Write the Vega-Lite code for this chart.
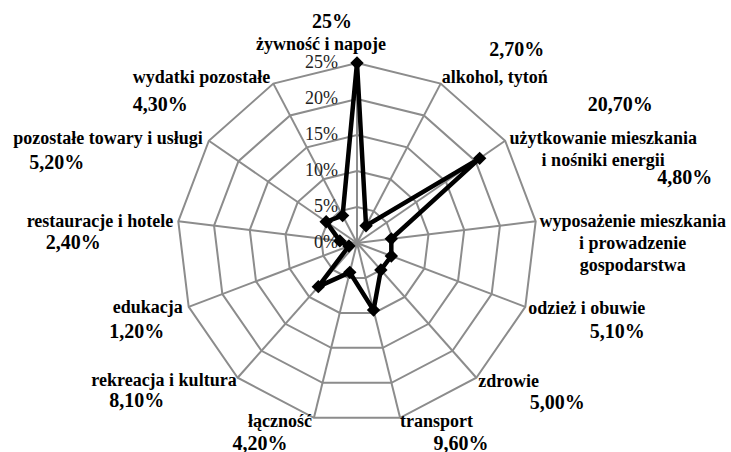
{
  "$schema": "https://vega.github.io/schema/vega-lite/v6.json",
  "width": 731,
  "height": 452,
  "padding": 0,
  "autosize": {"type": "none"},
  "background": "white",
  "config": {"view": {"stroke": null}, "font": "Liberation Serif, Times New Roman, serif"},
  "datasets": {
    "cats": [
      {"i": 0, "cat": "żywność i napoje", "v": 25, "lab": "25%"},
      {"i": 1, "cat": "alkohol, tytoń", "v": 2.7, "lab": "2,70%"},
      {"i": 2, "cat": "użytkowanie mieszkania\ni nośniki energii", "v": 20.7, "lab": "20,70%"},
      {"i": 3, "cat": "wyposażenie mieszkania\ni prowadzenie\ngospodarstwa", "v": 4.8, "lab": "4,80%"},
      {"i": 4, "cat": "odzież i obuwie", "v": 5.1, "lab": "5,10%"},
      {"i": 5, "cat": "zdrowie", "v": 5.0, "lab": "5,00%"},
      {"i": 6, "cat": "transport", "v": 9.6, "lab": "9,60%"},
      {"i": 7, "cat": "łączność", "v": 4.2, "lab": "4,20%"},
      {"i": 8, "cat": "rekreacja i kultura", "v": 8.1, "lab": "8,10%"},
      {"i": 9, "cat": "edukacja", "v": 1.2, "lab": "1,20%"},
      {"i": 10, "cat": "restauracje i hotele", "v": 2.4, "lab": "2,40%"},
      {"i": 11, "cat": "pozostałe towary i usługi", "v": 5.2, "lab": "5,20%"},
      {"i": 12, "cat": "wydatki pozostałe", "v": 4.3, "lab": "4,30%"}
    ],
    "ticks": [
      {"t": 0, "s": "0%"},
      {"t": 5, "s": "5%"},
      {"t": 10, "s": "10%"},
      {"t": 15, "s": "15%"},
      {"t": 20, "s": "20%"},
      {"t": 25, "s": "25%"}
    ]
  },
  "layer": [
    {
      "data": {"name": "cats"},
      "transform": [
        {"calculate": "[5, 10, 15, 20, 25]", "as": "lv"},
        {"flatten": ["lv"]},
        {"calculate": "datum.i * 2 * PI / 13", "as": "a"},
        {"calculate": "datum.lv * sin(datum.a)", "as": "gx"},
        {"calculate": "datum.lv * cos(datum.a)", "as": "gy"}
      ],
      "mark": {"type": "line", "interpolate": "linear-closed", "stroke": "#8c8c8c", "strokeWidth": 2},
      "encoding": {
        "x": {"field": "gx", "type": "quantitative", "scale": {"domain": [-49.583, 51.944], "nice": false, "zero": false}, "axis": null},
        "y": {"field": "gy", "type": "quantitative", "scale": {"domain": [-29.028, 33.75], "nice": false, "zero": false}, "axis": null},
        "detail": {"field": "lv", "type": "nominal"},
        "order": {"field": "i", "type": "quantitative"}
      }
    },
    {
      "data": {"name": "cats"},
      "transform": [
        {"calculate": "datum.i * 2 * PI / 13", "as": "a"},
        {"calculate": "25 * sin(datum.a)", "as": "gx"},
        {"calculate": "25 * cos(datum.a)", "as": "gy"},
        {"calculate": "0", "as": "z"}
      ],
      "mark": {"type": "rule", "stroke": "#8c8c8c", "strokeWidth": 2},
      "encoding": {
        "x": {"field": "z", "type": "quantitative"},
        "y": {"field": "z", "type": "quantitative"},
        "x2": {"field": "gx"},
        "y2": {"field": "gy"}
      }
    },
    {
      "data": {"name": "ticks"},
      "transform": [{"calculate": "0", "as": "z"}],
      "mark": {"type": "text", "align": "right", "baseline": "middle", "dx": -19, "fontSize": 18, "font": "Liberation Serif, Times New Roman, serif", "color": "#222"},
      "encoding": {
        "x": {"field": "z", "type": "quantitative"},
        "y": {"field": "t", "type": "quantitative"},
        "text": {"field": "s", "type": "nominal"}
      }
    },
    {
      "data": {"name": "cats"},
      "transform": [
        {"calculate": "datum.i * 2 * PI / 13", "as": "a"},
        {"calculate": "datum.v * sin(datum.a)", "as": "px"},
        {"calculate": "datum.v * cos(datum.a)", "as": "py"}
      ],
      "mark": {"type": "line", "interpolate": "linear-closed", "stroke": "black", "strokeWidth": 4.5, "strokeJoin": "miter"},
      "encoding": {
        "x": {"field": "px", "type": "quantitative"},
        "y": {"field": "py", "type": "quantitative"},
        "order": {"field": "i", "type": "quantitative"}
      }
    },
    {
      "data": {"name": "cats"},
      "transform": [
        {"calculate": "datum.i * 2 * PI / 13", "as": "a"},
        {"calculate": "datum.v * sin(datum.a)", "as": "px"},
        {"calculate": "datum.v * cos(datum.a)", "as": "py"}
      ],
      "mark": {"type": "point", "shape": "diamond", "filled": true, "color": "black", "size": 180, "opacity": 1},
      "encoding": {
        "x": {"field": "px", "type": "quantitative"},
        "y": {"field": "py", "type": "quantitative"}
      }
    },
    {
      "data": {"name": "cats"},
      "transform": [
        {"calculate": "datum.i * 2 * PI / 13", "as": "a"},
        {"calculate": "25 * sin(datum.a)", "as": "gx"},
        {"calculate": "25 * cos(datum.a)", "as": "gy"}
      ],
      "mark": {
        "type": "text",
        "font": "Liberation Serif, Times New Roman, serif",
        "fontWeight": "bold",
        "fontSize": 18,
        "color": "black",
        "lineBreak": "\n",
        "lineHeight": 22,
        "baseline": "middle",
        "align": {"expr": "['center','left','center','center','left','left','left','right','right','right','right','right','right'][datum.i]"},
        "dx": {"expr": "[-36, 1, 98, 97, 3, 2, 0, -2, -1, -6, -5, -6, -3][datum.i]"},
        "dy": {"expr": "[-18, -6, -2, 1, 2, 4, 4, 4, 3, 1, 1, -2, -6][datum.i]"}
      },
      "encoding": {
        "x": {"field": "gx", "type": "quantitative"},
        "y": {"field": "gy", "type": "quantitative"},
        "text": {"field": "cat", "type": "nominal"}
      }
    },
    {
      "data": {"name": "cats"},
      "transform": [
        {"calculate": "datum.i * 2 * PI / 13", "as": "a"},
        {"calculate": "25 * sin(datum.a)", "as": "gx"},
        {"calculate": "25 * cos(datum.a)", "as": "gy"}
      ],
      "mark": {
        "type": "text",
        "font": "Liberation Serif, Times New Roman, serif",
        "fontWeight": "bold",
        "fontSize": 20,
        "color": "black",
        "baseline": "middle",
        "align": "center",
        "dx": {"expr": "[-25, 76, 115, 149, 92, 81, 61, -54, -101, -52, -105, -152, -113][datum.i]"},
        "dy": {"expr": "[-41, -34, -36, -43, 25, 25, 26, 26, 23, 25, 22, 22, 21][datum.i]"}
      },
      "encoding": {
        "x": {"field": "gx", "type": "quantitative"},
        "y": {"field": "gy", "type": "quantitative"},
        "text": {"field": "lab", "type": "nominal"}
      }
    }
  ]
}
